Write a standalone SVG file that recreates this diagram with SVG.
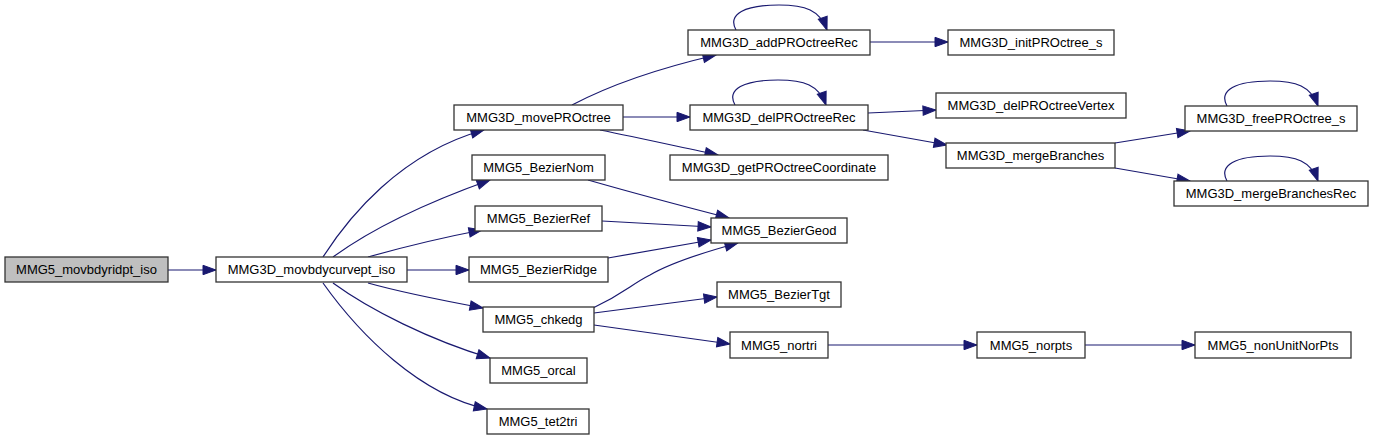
<svg xmlns="http://www.w3.org/2000/svg" width="1373" height="440" viewBox="0 0 1373 440">
<style>
.n rect{fill:#ffffff;stroke:#333333;stroke-width:1.3}
.n.root rect{fill:#bfbfbf}
.n text{font-family:"Liberation Sans",Arial,Helvetica,sans-serif;font-size:13px;fill:#000000;text-anchor:middle}
.e path{fill:none;stroke:#191970;stroke-width:1.2;marker-end:url(#ah)}
</style>
<defs>
<marker id="ah" markerUnits="userSpaceOnUse" markerWidth="14" markerHeight="11" refX="13" refY="5" orient="auto" overflow="visible">
<path d="M0,0.3 L13,5 L0,9.7 z" fill="#191970" stroke="#191970" stroke-width="1"/>
</marker>
</defs>
<rect width="1373" height="440" fill="#ffffff"/>
<g id="edges" class="e">
<path d="M168,270 L216,270"/>
<path d="M323,257 C348,218 400,153 484,130"/>
<path d="M333,257 C370,230 420,205 490,180"/>
<path d="M368,257 C400,248 440,238 482,230"/>
<path d="M407,270 L469,270"/>
<path d="M368,283 C400,292 440,300 483,308"/>
<path d="M333,283 C370,310 430,340 490,358"/>
<path d="M323,283 C360,335 420,395 487,409"/>
<path d="M572,105 C610,85 660,68 716,55"/>
<path d="M623,117 L690,117"/>
<path d="M600,130 C640,138 680,147 718,155"/>
<path d="M588,180 C630,192 690,208 729,218"/>
<path d="M602,221 L711,227"/>
<path d="M608,258 L711,240"/>
<path d="M593,308 C625,293 630,285 650,275 C672,262 705,252 738,243"/>
<path d="M594,313 L717,297"/>
<path d="M594,325 L730,344"/>
<path d="M828,345 L977,345"/>
<path d="M1085,345 L1195,345"/>
<path d="M870,42 L948,42"/>
<path d="M868,113 L936,110"/>
<path d="M863,130 L947,145"/>
<path d="M1115,143 L1190,131"/>
<path d="M1115,168 L1190,181"/>
<path d="M736,30 C727,14 745,5 779,5 C805,5 820,10 827,30"/>
<path d="M735,105 C726,89 744,80 778,80 C804,80 819,85 826,105"/>
<path d="M1227,106 C1218,90 1236,81 1270,81 C1296,81 1311,86 1318,106"/>
<path d="M1227,181 C1218,165 1236,156 1270,156 C1296,156 1311,161 1318,181"/>
</g>
<g id="n1" class="n root"><rect x="5" y="257" width="163" height="25"/><text x="86.5" y="274">MMG5_movbdyridpt_iso</text></g>
<g id="n2" class="n"><rect x="216" y="257" width="191" height="25"/><text x="311.5" y="274">MMG3D_movbdycurvept_iso</text></g>
<g id="n3" class="n"><rect x="454" y="105" width="169" height="25"/><text x="538.5" y="122">MMG3D_movePROctree</text></g>
<g id="n4" class="n"><rect x="688" y="30" width="182" height="25"/><text x="779" y="47">MMG3D_addPROctreeRec</text></g>
<g id="n5" class="n"><rect x="690" y="105" width="178" height="25"/><text x="779" y="122">MMG3D_delPROctreeRec</text></g>
<g id="n6" class="n"><rect x="670" y="155" width="218" height="25"/><text x="779" y="172">MMG3D_getPROctreeCoordinate</text></g>
<g id="n7" class="n"><rect x="472" y="155" width="133" height="25"/><text x="538.5" y="172">MMG5_BezierNom</text></g>
<g id="n8" class="n"><rect x="475" y="206" width="127" height="25"/><text x="538.5" y="223">MMG5_BezierRef</text></g>
<g id="n9" class="n"><rect x="711" y="218" width="136" height="25"/><text x="779" y="235">MMG5_BezierGeod</text></g>
<g id="n10" class="n"><rect x="948" y="30" width="166" height="25"/><text x="1031" y="47">MMG3D_initPROctree_s</text></g>
<g id="n11" class="n"><rect x="936" y="93" width="190" height="25"/><text x="1031" y="110">MMG3D_delPROctreeVertex</text></g>
<g id="n12" class="n"><rect x="946" y="143" width="169" height="25"/><text x="1030.5" y="160">MMG3D_mergeBranches</text></g>
<g id="n13" class="n"><rect x="1185" y="106" width="172" height="25"/><text x="1271" y="123">MMG3D_freePROctree_s</text></g>
<g id="n14" class="n"><rect x="1174" y="181" width="194" height="25"/><text x="1271" y="198">MMG3D_mergeBranchesRec</text></g>
<g id="n15" class="n"><rect x="469" y="257" width="139" height="25"/><text x="538.5" y="274">MMG5_BezierRidge</text></g>
<g id="n16" class="n"><rect x="717" y="282" width="124" height="25"/><text x="779" y="299">MMG5_BezierTgt</text></g>
<g id="n17" class="n"><rect x="483" y="307" width="111" height="25"/><text x="538.5" y="324">MMG5_chkedg</text></g>
<g id="n18" class="n"><rect x="730" y="332" width="98" height="26"/><text x="779" y="349.5">MMG5_nortri</text></g>
<g id="n19" class="n"><rect x="977" y="332" width="108" height="26"/><text x="1031" y="349.5">MMG5_norpts</text></g>
<g id="n20" class="n"><rect x="1195" y="332" width="156" height="26"/><text x="1273" y="349.5">MMG5_nonUnitNorPts</text></g>
<g id="n21" class="n"><rect x="490" y="358" width="97" height="25"/><text x="538.5" y="375">MMG5_orcal</text></g>
<g id="n22" class="n"><rect x="487" y="409" width="102" height="25"/><text x="538" y="426">MMG5_tet2tri</text></g>
</svg>
